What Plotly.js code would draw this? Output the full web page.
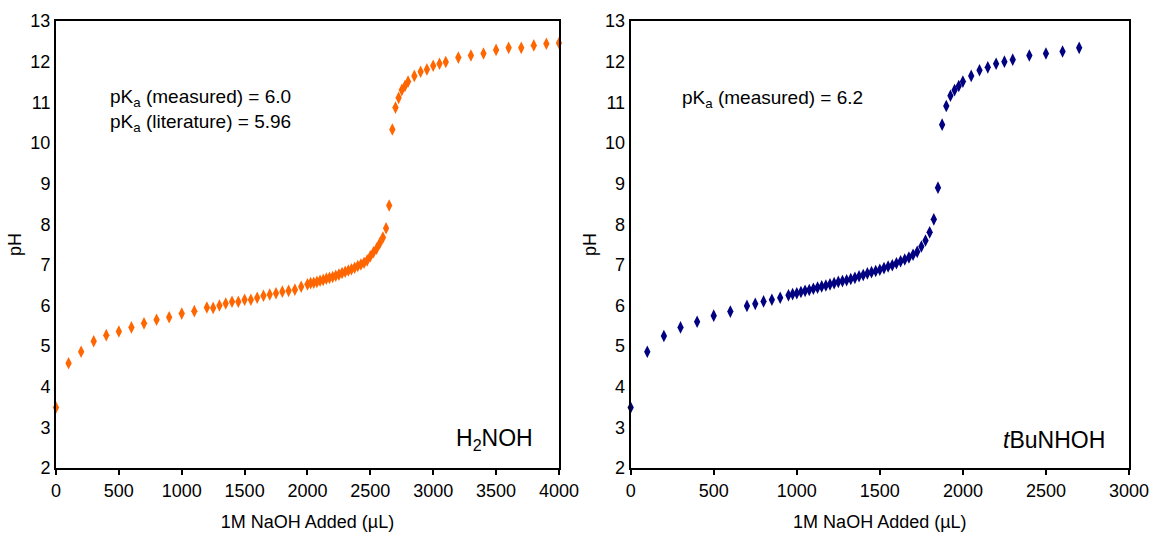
<!DOCTYPE html>
<html>
<head>
<meta charset="utf-8">
<script src="https://cdn.plot.ly/plotly-3.0.1.min.js"></script>
<style>html,body{margin:0;padding:0;background:#fff;}#chart{width:1157px;height:535px;}</style>
</head>
<body>
<div id="chart"></div>
<script>
// H2NOH titration (left)
const h2nohVolume = [0,100,200,300,400,500,600,700,800,900,1000,1100,1200,1250,1300,1350,1400,1450,1500,1550,1600,1650,1700,1750,1800,1850,1900,1950,
  2000,2025,2050,2075,2100,2125,2150,2175,2200,2225,2250,2275,2300,2325,2350,2375,2400,2425,2450,2475,2500,2525,2550,2575,2600,2625,2650,2675,
  2700,2725,2750,2775,2800,2850,2900,2950,3000,3050,3100,3200,3300,3400,3500,3600,3700,3800,3900,4000];
const h2nohPH = [3.49,4.58,4.86,5.12,5.27,5.36,5.46,5.56,5.65,5.71,5.80,5.86,5.95,5.94,6.00,6.05,6.09,6.09,6.14,6.14,6.19,6.24,6.27,6.30,6.34,6.36,6.39,6.46,
  6.52,6.55,6.56,6.58,6.61,6.63,6.66,6.68,6.70,6.73,6.76,6.80,6.83,6.86,6.89,6.93,6.97,7.01,7.05,7.11,7.21,7.31,7.40,7.53,7.67,7.90,8.46,10.33,
  10.87,11.11,11.30,11.40,11.51,11.65,11.75,11.81,11.90,11.95,11.99,12.10,12.15,12.20,12.29,12.34,12.34,12.40,12.44,12.46];

// tBuNHOH titration (right)
const tbuVolume = [0,100,200,300,400,500,600,700,750,800,850,900,950,975,1000,1025,1050,1075,1100,1125,1150,1175,1200,1225,1250,1275,1300,1325,1350,1375,
  1400,1425,1450,1475,1500,1525,1550,1575,1600,1625,1650,1675,1700,1725,1750,1775,1800,1825,1850,1875,1900,1925,1950,1975,2000,2050,2100,2150,2200,2250,2300,2400,2500,2600,2700];
const tbuPH = [3.49,4.86,5.25,5.46,5.60,5.75,5.85,5.99,6.04,6.10,6.14,6.19,6.25,6.28,6.30,6.33,6.36,6.38,6.41,6.44,6.47,6.49,6.52,6.55,6.58,6.60,6.62,6.65,6.68,6.72,
  6.75,6.79,6.82,6.85,6.88,6.92,6.96,6.99,7.04,7.09,7.13,7.18,7.25,7.32,7.45,7.60,7.80,8.12,8.90,10.45,10.91,11.16,11.30,11.40,11.51,11.65,11.79,11.86,11.95,12.00,12.05,12.15,12.20,12.25,12.34];

const yTicks = [2,3,4,5,6,7,8,9,10,11,12,13];

const FONT = "Liberation Sans, Arial, sans-serif";

const traces = [
  {x: h2nohVolume, y: h2nohPH, type: 'scatter', mode: 'markers', xaxis: 'x', yaxis: 'y',
   marker: {symbol: 'diamond-tall', size: 9, color: '#FF6600'}, cliponaxis: false, showlegend: false},
  {x: tbuVolume, y: tbuPH, type: 'scatter', mode: 'markers', xaxis: 'x2', yaxis: 'y2',
   marker: {symbol: 'diamond-tall', size: 9, color: '#000080'}, cliponaxis: false, showlegend: false}
];

function xAxis(domain, range, anchor) {
  return {domain: domain, range: range, dtick: 500, tick0: 0, anchor: anchor,
    showline: true, linecolor: '#000', linewidth: 2, mirror: true,
    ticks: 'outside', ticklen: 5, tickwidth: 2, tickcolor: '#000',
    showgrid: false, zeroline: false,
    tickfont: {family: FONT, size: 18, color: '#000'},
    title: {text: '1M NaOH Added (µL)', font: {family: FONT, size: 18, color: '#000'}, standoff: 16}};
}
function yAxis(domain, anchor) {
  return {domain: domain, range: [2, 13], tickvals: yTicks, anchor: anchor,
    showline: true, linecolor: '#000', linewidth: 2, mirror: true,
    ticks: '', showgrid: false, zeroline: false,
    tickfont: {family: FONT, size: 18, color: '#000'},
    title: {text: 'pH', font: {family: FONT, size: 18, color: '#000'}, standoff: 4}};
}

const yDom = [0.1252, 0.9607];
const layout = {
  width: 1157, height: 535,
  margin: {l: 0, r: 0, t: 0, b: 0},
  paper_bgcolor: '#fff', plot_bgcolor: '#fff',
  font: {family: FONT, color: '#000'},
  xaxis: xAxis([0.0484, 0.4831], [0, 4000], 'y'),
  yaxis: yAxis(yDom, 'x'),
  xaxis2: xAxis([0.5451, 0.9758], [0, 3000], 'y2'),
  yaxis2: yAxis(yDom, 'x2'),
  annotations: [
    {xref: 'x domain', yref: 'y domain', x: 0.103, y: 0.80, xanchor: 'left', yanchor: 'middle', align: 'left',
     showarrow: false, text: 'pK<sub>a</sub> (measured) = 6.0<br>pK<sub>a</sub> (literature) = 5.96',
     font: {family: FONT, size: 19, color: '#000'}},
    {xref: 'x2 domain', yref: 'y2 domain', x: 0.099, y: 0.825, xanchor: 'left', yanchor: 'middle', align: 'left',
     showarrow: false, text: 'pK<sub>a</sub> (measured) = 6.2',
     font: {family: FONT, size: 19, color: '#000'}},
    {xref: 'x domain', yref: 'y domain', x: 0.952, y: 0.063, xanchor: 'right', yanchor: 'middle',
     showarrow: false, text: 'H<sub>2</sub>NOH', font: {family: FONT, size: 23, color: '#000'}},
    {xref: 'x2 domain', yref: 'y2 domain', x: 0.956, y: 0.063, xanchor: 'right', yanchor: 'middle',
     showarrow: false, text: '<i>t</i>BuNHOH', font: {family: FONT, size: 23, color: '#000'}}
  ]
};

Plotly.newPlot('chart', traces, layout, {displayModeBar: false, staticPlot: true});
</script>
</body>
</html>
